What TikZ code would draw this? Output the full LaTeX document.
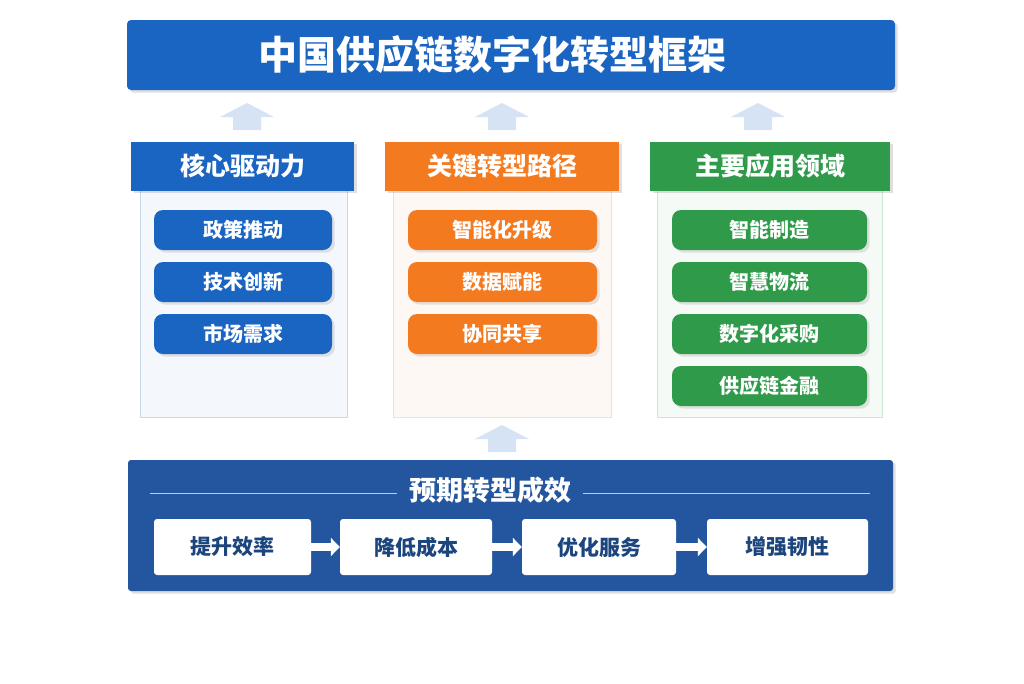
\documentclass[tikz,border=0pt]{standalone}
\usepackage{fontspec}
\setmainfont{Noto Sans CJK SC}
\usetikzlibrary{positioning,shadows}
\definecolor{tblue}{HTML}{1A64C2}
\definecolor{torange}{HTML}{F47A1F}
\definecolor{tgreen}{HTML}{2E9A4A}
\definecolor{dblue}{HTML}{23569E}
\tikzset{
    head/.style={draw=none, minimum height=49pt, font=\fontsize{25}{28}\selectfont\bfseries, text=white, drop shadow={opacity=0.25}},
    body/.style={draw=#1!25, fill=#1!5, line width=0.8pt},
    pill/.style={fill=#1, rounded corners=9pt, minimum height=40pt, text=white, font=\fontsize{20}{23}\selectfont\bfseries, drop shadow={opacity=0.2}},
    res/.style={fill=white, rounded corners=3pt, minimum height=56pt, text=dblue!80!black, font=\fontsize{21}{24}\selectfont\bfseries},
    uparr/.style={fill=tblue!18, draw=none},
    flow/.style={->, >={Triangle[length=9pt,width=18pt]}, line width=8pt, white}
}
\usetikzlibrary{arrows.meta}
\begin{document}
\begin{tikzpicture}[x=1pt,y=-1pt]
    \useasboundingbox (0,0) rectangle (1024,683);
    % title
    \node[fill=tblue, rounded corners=4pt, minimum width=768pt, minimum height=70pt, drop shadow={opacity=0.25}] (titlebar) at (511,55) {};
    \node[text=white, font=\fontsize{39}{44}\selectfont\bfseries] (title) at (492,55) {中国供应链数字化转型框架};
    % arrows up
    \foreach \ax/\ay in {247/103, 502/103, 758/103, 502/425}
        \fill[uparr] (\ax-27,\ay+14) -- (\ax,\ay) -- (\ax+27,\ay+14) -- (\ax+14,\ay+14) -- (\ax+14,\ay+27) -- (\ax-14,\ay+27) -- (\ax-14,\ay+14) -- cycle;
    % columns
    \draw[body=tblue] (140,190) rectangle (347,417);
    \draw[body=torange] (393,190) rectangle (611,417);
    \draw[body=tgreen] (657,190) rectangle (882,417);
    \node[head, fill=tblue, minimum width=223pt] (drive) at (242.5,166) {核心驱动力};
    \node[head, fill=torange, minimum width=234pt] (path) at (502,166) {关键转型路径};
    \node[head, fill=tgreen, minimum width=240pt] (field) at (770,166) {主要应用领域};
    \foreach \t [count=\i] in {政策推动, 技术创新, 市场需求}
        \node[pill=tblue, minimum width=178pt] (drive\i) at (243,178+52*\i) {\t};
    \foreach \t [count=\i] in {智能化升级, 数据赋能, 协同共享}
        \node[pill=torange, minimum width=189pt] (path\i) at (502.5,178+52*\i) {\t};
    \foreach \t [count=\i] in {智能制造, 智慧物流, 数字化采购, 供应链金融}
        \node[pill=tgreen, minimum width=195pt] (field\i) at (769.5,178+52*\i) {\t};
    % results
    \node[fill=dblue, rounded corners=3pt, minimum width=765pt, minimum height=131pt, drop shadow={opacity=0.25}] (panel) at (510.5,525.5) {};
    \node[text=white, inner xsep=12pt, font=\fontsize{27}{30}\selectfont\bfseries] (restitle) at (490,490) {预期转型成效};
    \coordinate (l1) at (150,493); \coordinate (r1) at (870,493);
    \draw[white!70!dblue, line width=1pt] (l1) -- (restitle.west |- l1) (restitle.east |- r1) -- (r1);
    \node[res, minimum width=157pt] (eff) at (232.5,547) {提升效率};
    \node[res, minimum width=152pt] (cost) at (416,547) {降低成本};
    \node[res, minimum width=154pt] (serv) at (599,547) {优化服务};
    \node[res, minimum width=161pt] (resil) at (787.5,547) {增强韧性};
    \foreach \a/\b in {eff/cost, cost/serv, serv/resil}
        \draw[flow] (\a) -- (\b);
\end{tikzpicture}
\end{document}
